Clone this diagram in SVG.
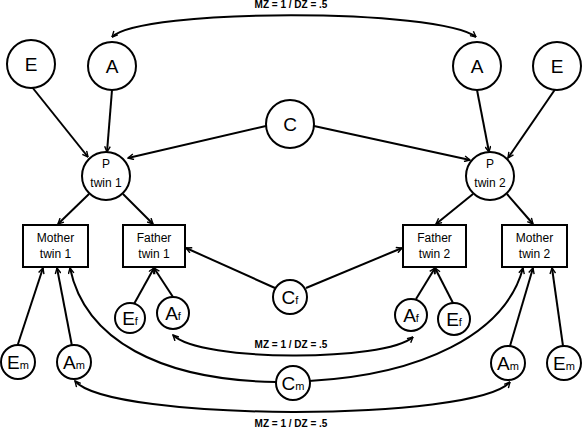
<svg xmlns="http://www.w3.org/2000/svg" width="583" height="429" viewBox="0 0 583 429">
<defs>
<marker id="ah" viewBox="0 0 10 10" refX="9" refY="5" markerWidth="7" markerHeight="7" markerUnits="userSpaceOnUse" orient="auto-start-reverse">
<path d="M1,1 L9,5 L1,9" fill="none" stroke="#000" stroke-width="2"/>
</marker>
<style>
.n{fill:#fff;stroke:#000;stroke-width:2}
.t{font-family:"Liberation Sans",Arial,sans-serif;fill:#000;text-anchor:middle}
.big{font-size:19px}
.sub{font-size:11px}
.sm{font-size:12px}
.lab{font-size:10px;font-weight:bold}
.c{fill:none;stroke:#000;stroke-width:2;marker-end:url(#ah)}
.d{fill:none;stroke:#000;stroke-width:2;marker-end:url(#ah);marker-start:url(#ah)}
</style>
</defs>
<rect width="583" height="429" fill="#fff"/>
<g id="connectors">
<path class="d" d="M112,37 C140,8 440,8 476,37"/>
<line class="c" x1="32" y1="87" x2="88" y2="157"/>
<line class="c" x1="112" y1="90" x2="107" y2="152"/>
<line class="c" x1="266" y1="126" x2="128" y2="158"/>
<line class="c" x1="314" y1="126" x2="470" y2="160"/>
<line class="c" x1="477" y1="90" x2="489" y2="152"/>
<line class="c" x1="556" y1="88" x2="508" y2="158"/>
<line class="c" x1="89" y1="194" x2="58" y2="224"/>
<line class="c" x1="123" y1="194" x2="153" y2="224"/>
<line class="c" x1="473" y1="194" x2="436" y2="224"/>
<line class="c" x1="507" y1="194" x2="533" y2="224"/>
<line class="c" x1="275" y1="288" x2="186" y2="248"/>
<line class="c" x1="306" y1="288" x2="402" y2="248"/>
<line class="c" x1="134" y1="304" x2="154" y2="268"/>
<line class="c" x1="173" y1="297" x2="154" y2="268"/>
<line class="c" x1="416" y1="299" x2="435" y2="268"/>
<line class="c" x1="453" y1="303" x2="435" y2="268"/>
<line class="c" x1="17" y1="347" x2="43" y2="268"/>
<line class="c" x1="72" y1="346" x2="57" y2="268"/>
<line class="c" x1="510" y1="346" x2="533" y2="268"/>
<line class="c" x1="563" y1="346" x2="552" y2="268"/>
<path class="c" d="M276,382 C160,380 85,340 70,268"/>
<path class="c" d="M309,381 C420,375 505,335 523,268"/>
<path class="d" d="M173,335 C200,362 385,362 413,337"/>
<path class="d" d="M75,381 C110,422 475,422 510,382"/>
<text class="t lab" x="291" y="8">MZ = 1 / DZ = .5</text>
<text class="t lab" x="291" y="348">MZ = 1 / DZ = .5</text>
<text class="t lab" x="291" y="427">MZ = 1 / DZ = .5</text>
</g>
<g id="E1"><circle class="n" cx="31" cy="64" r="24"/><text class="t big" x="31" y="71">E</text></g>
<g id="A1"><circle class="n" cx="112" cy="66" r="24"/><text class="t big" x="112" y="73">A</text></g>
<g id="C"><circle class="n" cx="290" cy="124" r="24"/><text class="t big" x="290" y="131">C</text></g>
<g id="A2"><circle class="n" cx="477" cy="66" r="24"/><text class="t big" x="477" y="73">A</text></g>
<g id="E2"><circle class="n" cx="557" cy="66" r="24"/><text class="t big" x="557" y="73">E</text></g>
<g id="P1"><circle class="n" cx="106" cy="176" r="24"/><text class="t sm" x="106" y="168">P</text><text class="t sm" x="106" y="187">twin 1</text></g>
<g id="P2"><circle class="n" cx="490" cy="176" r="24"/><text class="t sm" x="490" y="168">P</text><text class="t sm" x="490" y="187">twin 2</text></g>
<g id="M1"><rect class="n" x="23" y="225" width="65" height="42"/><text class="t sm" x="55.5" y="242">Mother</text><text class="t sm" x="55.5" y="258">twin 1</text></g>
<g id="F1"><rect class="n" x="123" y="225" width="62" height="42"/><text class="t sm" x="154" y="242">Father</text><text class="t sm" x="154" y="258">twin 1</text></g>
<g id="F2"><rect class="n" x="403" y="225" width="63" height="42"/><text class="t sm" x="434.5" y="242">Father</text><text class="t sm" x="434.5" y="258">twin 2</text></g>
<g id="M2"><rect class="n" x="502" y="225" width="65" height="42"/><text class="t sm" x="534.5" y="242">Mother</text><text class="t sm" x="534.5" y="258">twin 2</text></g>
<g id="Cf"><circle class="n" cx="290" cy="297" r="17"/><text class="t big" x="290" y="304">C<tspan class="sub">f</tspan></text></g>
<g id="Ef1"><circle class="n" cx="130" cy="318" r="15"/><text class="t big" x="130" y="325">E<tspan class="sub">f</tspan></text></g>
<g id="Af1"><circle class="n" cx="173" cy="313" r="16"/><text class="t big" x="173" y="320">A<tspan class="sub">f</tspan></text></g>
<g id="Af2"><circle class="n" cx="411" cy="315" r="16"/><text class="t big" x="411" y="322">A<tspan class="sub">f</tspan></text></g>
<g id="Ef2"><circle class="n" cx="454" cy="319" r="16"/><text class="t big" x="454" y="326">E<tspan class="sub">f</tspan></text></g>
<g id="Em1"><circle class="n" cx="18" cy="362" r="17"/><text class="t big" x="18" y="369">E<tspan class="sub">m</tspan></text></g>
<g id="Am1"><circle class="n" cx="74" cy="362" r="17"/><text class="t big" x="74" y="369">A<tspan class="sub">m</tspan></text></g>
<g id="Cm"><circle class="n" cx="293" cy="383" r="17"/><text class="t big" x="293" y="390">C<tspan class="sub">m</tspan></text></g>
<g id="Am2"><circle class="n" cx="508" cy="363" r="17"/><text class="t big" x="508" y="370">A<tspan class="sub">m</tspan></text></g>
<g id="Em2"><circle class="n" cx="564" cy="363" r="17"/><text class="t big" x="564" y="370">E<tspan class="sub">m</tspan></text></g>
</svg>
